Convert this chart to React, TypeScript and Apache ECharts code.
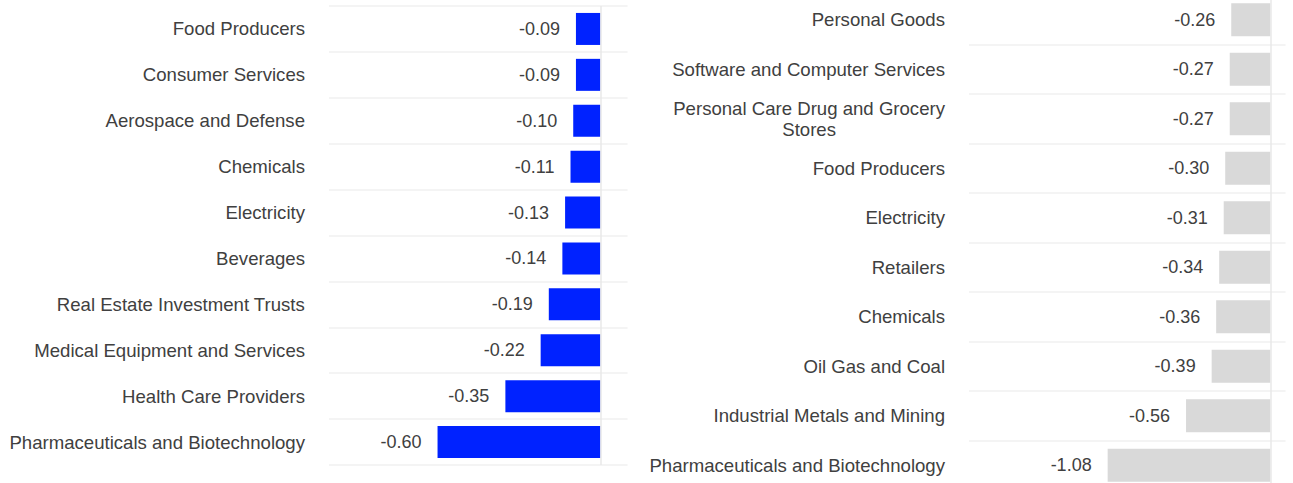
import React, { useEffect, useRef } from 'react';
import * as echarts from 'echarts';

const leftCategories = [
  'Food Producers',
  'Consumer Services',
  'Aerospace and Defense',
  'Chemicals',
  'Electricity',
  'Beverages',
  'Real Estate Investment Trusts',
  'Medical Equipment and Services',
  'Health Care Providers',
  'Pharmaceuticals and Biotechnology',
];
const leftValues = [-0.09, -0.09, -0.1, -0.11, -0.13, -0.14, -0.19, -0.22, -0.35, -0.6];

const rightCategories = [
  'Personal Goods',
  'Software and Computer Services',
  'Personal Care Drug and Grocery Stores',
  'Food Producers',
  'Electricity',
  'Retailers',
  'Chemicals',
  'Oil Gas and Coal',
  'Industrial Metals and Mining',
  'Pharmaceuticals and Biotechnology',
];
const rightValues = [-0.26, -0.27, -0.27, -0.3, -0.31, -0.34, -0.36, -0.39, -0.56, -1.08];

const FONT = '"Liberation Sans", Arial, sans-serif';
const TEXT = '#404040';

function wrap(s: string, max = 33): string {
  const words = s.split(' ');
  const lines: string[] = [];
  let cur = '';
  for (const w of words) {
    if (cur && (cur + ' ' + w).length > max) {
      lines.push(cur);
      cur = w;
    } else {
      cur = cur ? cur + ' ' + w : w;
    }
  }
  if (cur) lines.push(cur);
  return lines.map((l) => `{c|${l}}`).join('\n');
}

function catAxis(gridIndex: number, data: string[]) {
  return {
    type: 'category',
    gridIndex,
    data,
    inverse: true,
    axisLine: { show: false },
    axisTick: { show: false },
    splitLine: { show: true, lineStyle: { color: '#f0f0f0', width: 1.5 } },
    axisLabel: {
      margin: 24,
      formatter: (v: string) => wrap(v),
      rich: {
        c: { align: 'center', fontSize: 18.6, color: TEXT, fontFamily: FONT, lineHeight: 21 },
      },
    },
  };
}

function barSeries(axisIndex: number, values: number[], color: string, barWidth: number) {
  return {
    type: 'bar',
    xAxisIndex: axisIndex,
    yAxisIndex: axisIndex,
    data: values,
    barWidth,
    itemStyle: { color },
    label: {
      show: true,
      position: 'left',
      distance: 16,
      fontSize: 18,
      color: TEXT,
      fontFamily: FONT,
      formatter: (p: any) => Number(p.value).toFixed(2),
    },
    markLine: {
      silent: true,
      symbol: ['none', 'none'],
      label: { show: false },
      lineStyle: { color: '#e8e8e8', type: 'solid', width: 1.5 },
      data: [{ xAxis: 0 }],
    },
  };
}

export default function App() {
  const ref = useRef<HTMLDivElement>(null);
  useEffect(() => {
    if (!ref.current) return;
    const chart = echarts.init(ref.current, undefined, { renderer: 'svg' });
    chart.setOption({
      animation: false,
      backgroundColor: '#ffffff',
      grid: [
        { left: 329, top: 6, width: 298.5, height: 459, outerBoundsMode: 'none', containLabel: false },
        { left: 969, top: -5, width: 316.5, height: 495, outerBoundsMode: 'none', containLabel: false },
      ],
      xAxis: [
        { type: 'value', gridIndex: 0, min: -1, max: 0.1, show: false },
        { type: 'value', gridIndex: 1, min: -2, max: 0.1, show: false },
      ],
      yAxis: [catAxis(0, leftCategories), catAxis(1, rightCategories)],
      series: [
        barSeries(0, leftValues, '#0022ff', 32),
        barSeries(1, rightValues, '#d9d9d9', 33),
      ],
    });
    return () => chart.dispose();
  }, []);
  return (
    <div
      ref={ref}
      style={{ position: 'absolute', left: 0, top: 0, width: 1293, height: 483 }}
    />
  );
}
